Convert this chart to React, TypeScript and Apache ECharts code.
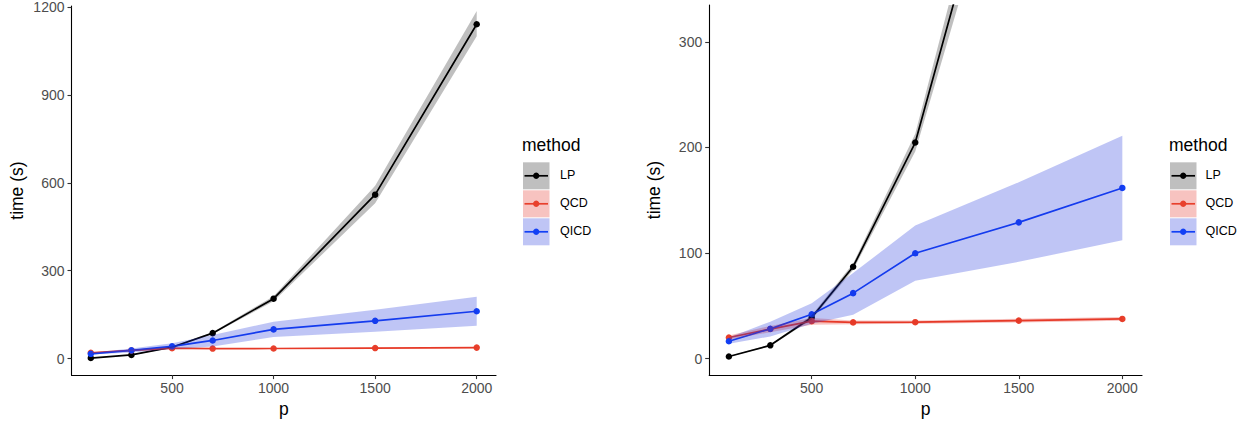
import React, { useEffect, useRef } from "react";
import * as echarts from "echarts";

const P = [100, 300, 500, 700, 1000, 1500, 2000];
const LP = [2, 12.6, 39, 87, 204.6, 559.5, 1141];
const LP_LO = [1.7, 11.8, 37, 84, 196, 530, 1100];
const LP_HI = [2.3, 13.4, 41, 90, 213, 590, 1186];
const QCD = [20, 28, 35.5, 34.3, 34.5, 36, 37.6];
const QCD_LO = [18, 25, 32, 32.5, 33, 34.3, 35.8];
const QCD_HI = [22, 31, 38.5, 36, 36, 37.8, 39.5];
const QICD = [16.4, 28.2, 42, 62, 99.8, 129, 161.6];
const QICD_LO = [14, 21, 33, 41.5, 73.8, 91.7, 112];
const QICD_HI = [20, 35, 52.4, 81, 126, 167, 210.9];

const METHODS = ["LP", "QCD", "QICD"];
const LINE_COLORS = ["#000000", "#E8402C", "#1240F5"];
const FILL_COLORS = ["rgba(0,0,0,0.25)", "rgba(225,40,30,0.28)", "rgba(25,45,220,0.28)"];
const MID = [LP, QCD, QICD];
const LO = [LP_LO, QCD_LO, QICD_LO];
const HI = [LP_HI, QCD_HI, QICD_HI];

const X_TICKS = [500, 1000, 1500, 2000];
const Y_TICKS_LEFT = [0, 300, 600, 900, 1200];
const Y_TICKS_RIGHT = [0, 100, 200, 300];

const FONT = "Liberation Sans, Arial, Helvetica, sans-serif";

export default function App() {
  const ref = useRef<HTMLDivElement>(null);
  useEffect(() => {
    if (!ref.current) return;
    const chart = echarts.init(ref.current, undefined, { renderer: "svg" });

    const grids = [
      { left: 71.5, top: 5, width: 424.5, height: 372.3 },
      { left: 709.2, top: 5, width: 432.8, height: 372.3 },
    ];
    const yRanges = [
      [-56.2, 1203.4],
      [-15.6, 334.8],
    ];
    const yTicks = [Y_TICKS_LEFT, Y_TICKS_RIGHT];
    const plain = (v: number) => String(Math.round(v));

    const xAxes = grids.map((_, i) => ({
      type: "value",
      gridIndex: i,
      min: 5,
      max: 2095,
      name: "p",
      nameLocation: "middle",
      nameGap: 24,
      nameTextStyle: { fontSize: 17.5, color: "#000", fontFamily: FONT },
      axisLine: { show: true, onZero: false, lineStyle: { color: "#000", width: 1.1 } },
      axisTick: { show: true, length: 4, customValues: X_TICKS, lineStyle: { color: "#333", width: 1.1 } },
      axisLabel: { customValues: X_TICKS, formatter: plain, margin: 6, fontSize: 14, color: "#4D4D4D", fontFamily: FONT },
      splitLine: { show: false },
    }));
    const yAxes = grids.map((_, i) => ({
      type: "value",
      gridIndex: i,
      min: yRanges[i][0],
      max: yRanges[i][1],
      name: "time (s)",
      nameLocation: "middle",
      nameGap: 46,
      nameTextStyle: { fontSize: 17.5, color: "#000", fontFamily: FONT },
      axisLine: { show: true, onZero: false, lineStyle: { color: "#000", width: 1.1 } },
      axisTick: { show: true, length: 4, customValues: yTicks[i], lineStyle: { color: "#333", width: 1.1 } },
      axisLabel: { customValues: yTicks[i], formatter: plain, margin: 7, fontSize: 14, color: "#4D4D4D", fontFamily: FONT },
      splitLine: { show: false },
    }));

    const series: any[] = [];
    for (let g = 0; g < 2; g++) {
      for (let m = 0; m < 3; m++) {
        series.push({
          type: "line",
          name: METHODS[m],
          xAxisIndex: g,
          yAxisIndex: g,
          data: P.map((p, i) => [p, MID[m][i]]),
          symbol: "circle",
          symbolSize: 6.5,
          itemStyle: { color: LINE_COLORS[m] },
          lineStyle: { color: LINE_COLORS[m], width: 1.7 },
          z: 2,
          clip: true,
          silent: true,
        });
      }
      for (let m = 0; m < 3; m++) {
        const lo = LO[m];
        const hi = HI[m];
        series.push({
          type: "custom",
          xAxisIndex: g,
          yAxisIndex: g,
          clip: true,
          silent: true,
          z: 3,
          data: P.map((p, i) => [p, lo[i], hi[i]]),
          encode: { x: 0, y: [1, 2] },
          renderItem: (params: any, api: any) => {
            if (params.dataIndex !== 0) return null;
            const upper = P.map((p, i) => api.coord([p, hi[i]]));
            const lower = P.map((p, i) => api.coord([p, lo[i]])).reverse();
            return {
              type: "polygon",
              shape: { points: [...upper, ...lower] },
              style: { fill: FILL_COLORS[m] },
            };
          },
        });
      }
    }

    const legendAt = (x: number, labelX: number) => {
      const els: any[] = [
        {
          type: "text",
          x,
          y: 145,
          style: { text: "method", fontSize: 17.5, fill: "#000", fontFamily: FONT, verticalAlign: "middle", align: "left" },
        },
      ];
      const boxTop = [162.3, 190.3, 218.3];
      for (let m = 0; m < 3; m++) {
        const y0 = boxTop[m];
        const cy = y0 + 13.5;
        els.push({ type: "rect", shape: { x: x + 1, y: y0, width: 26.5, height: 27 }, style: { fill: FILL_COLORS[m] } });
        els.push({
          type: "line",
          shape: { x1: x + 2.5, y1: cy, x2: x + 26, y2: cy },
          style: { stroke: LINE_COLORS[m], lineWidth: 1.7 },
        });
        els.push({ type: "circle", shape: { cx: x + 14.2, cy, r: 3.2 }, style: { fill: LINE_COLORS[m] } });
        els.push({
          type: "text",
          x: labelX,
          y: cy - 0.8,
          style: { text: METHODS[m], fontSize: 12.5, fill: "#000", fontFamily: FONT, verticalAlign: "middle", align: "left" },
        });
      }
      return els;
    };

    chart.setOption({
      animation: false,
      backgroundColor: "#fff",
      textStyle: { fontFamily: FONT },
      grid: grids.map((g) => ({ ...g, containLabel: false })),
      xAxis: xAxes,
      yAxis: yAxes,
      series,
      graphic: [...legendAt(522, 560), ...legendAt(1169, 1205.5)],
    });
    return () => chart.dispose();
  }, []);
  return <div ref={ref} style={{ position: "absolute", left: 0, top: 0, width: 1251, height: 423 }} />;
}
